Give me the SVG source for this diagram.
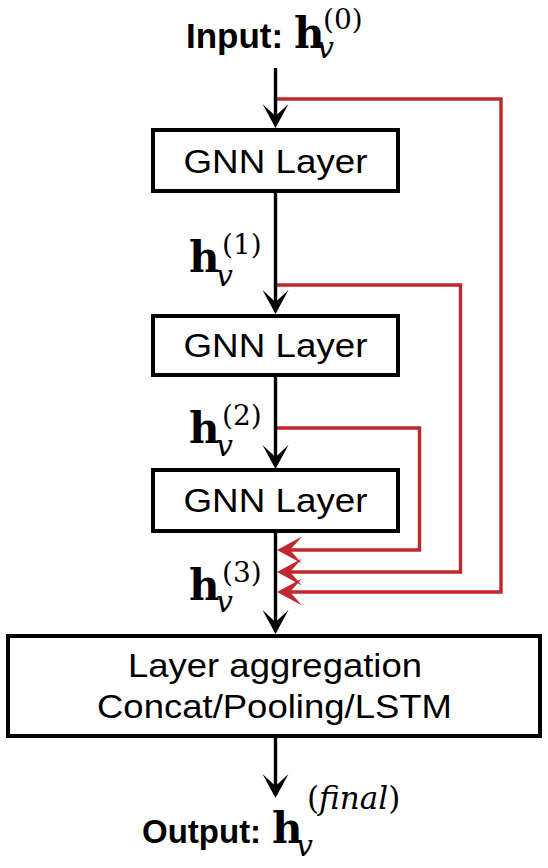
<svg xmlns="http://www.w3.org/2000/svg" width="548" height="868" viewBox="0 0 548 868">
<defs>
<style>
.box{fill:#ffffff;stroke:#000000;stroke-width:4}
.blk{fill:none;stroke:#000000;stroke-width:3.4}
.red{fill:none;stroke:#c0282d;stroke-width:3.4}
.lbl{font-family:"Liberation Sans",Arial,sans-serif;font-size:33px;fill:#000000}
.ttl{font-family:"Liberation Sans",Arial,sans-serif;font-size:35px;font-weight:bold}
.hb{font-family:"DejaVu Serif","Liberation Serif",serif;font-size:42px;font-weight:bold;font-style:normal}
.vi{font-family:"DejaVu Serif","Liberation Serif",serif;font-size:30px;font-style:italic;font-weight:normal}
.sup{font-family:"DejaVu Serif","Liberation Serif",serif;font-size:28px;font-style:normal;font-weight:normal}
.math{fill:#000000}
</style>
<path id="headB" d="M0,0 L-24,-13 L-12,0 L-24,13 Z" fill="#000000"/>
<path id="headR" d="M0,0 L-25,-13.5 L-13,0 L-25,13.5 Z" fill="#c0282d"/>
</defs>
<rect width="548" height="868" fill="#ffffff"/>

<g id="connectors">
<path class="red" d="M277,99 H501 V592 H290"/>
<path class="red" d="M277,285 H460.5 V572 H290"/>
<path class="red" d="M277,428 H419.5 V550 H290"/>
<use href="#headR" transform="translate(277,550) rotate(180)"/>
<use href="#headR" transform="translate(277,572) rotate(180)"/>
<use href="#headR" transform="translate(277,592) rotate(180)"/>
<path class="blk" d="M275.5,68 V117"/>
<use href="#headB" transform="translate(275.5,128) rotate(90)"/>
<path class="blk" d="M275.5,191 V303"/>
<use href="#headB" transform="translate(275.5,314) rotate(90)"/>
<path class="blk" d="M275.5,375 V458"/>
<use href="#headB" transform="translate(275.5,469) rotate(90)"/>
<path class="blk" d="M275.5,531 V623"/>
<use href="#headB" transform="translate(275.5,634) rotate(90)"/>
<path class="blk" d="M275.5,736 V787"/>
<use href="#headB" transform="translate(275.5,798) rotate(90)"/>
</g>

<g id="input">
<text class="math"><tspan class="ttl" x="186" y="48">Input:</tspan><tspan class="hb" x="294" y="48">h</tspan><tspan class="vi" x="317" y="58">v</tspan><tspan class="sup" x="323" y="29">(0)</tspan></text>
</g>

<g id="gnn1">
<rect class="box" x="153" y="130" width="245" height="61"/>
<text class="lbl" x="275.5" y="173" text-anchor="middle" textLength="184" lengthAdjust="spacingAndGlyphs">GNN Layer</text>
</g>

<g id="h1">
<text class="math"><tspan class="hb" x="189" y="272">h</tspan><tspan class="vi" x="216" y="286">v</tspan><tspan class="sup" x="222" y="254">(1)</tspan></text>
</g>

<g id="gnn2">
<rect class="box" x="153" y="316" width="245" height="59"/>
<text class="lbl" x="275.5" y="357" text-anchor="middle" textLength="184" lengthAdjust="spacingAndGlyphs">GNN Layer</text>
</g>

<g id="h2">
<text class="math"><tspan class="hb" x="189" y="443">h</tspan><tspan class="vi" x="216" y="456">v</tspan><tspan class="sup" x="222" y="425">(2)</tspan></text>
</g>

<g id="gnn3">
<rect class="box" x="153" y="470" width="245" height="61"/>
<text class="lbl" x="275.5" y="512" text-anchor="middle" textLength="184" lengthAdjust="spacingAndGlyphs">GNN Layer</text>
</g>

<g id="h3">
<text class="math"><tspan class="hb" x="189" y="600">h</tspan><tspan class="vi" x="216" y="612">v</tspan><tspan class="sup" x="222" y="582">(3)</tspan></text>
</g>

<g id="aggregation">
<rect class="box" x="8" y="636" width="532" height="100"/>
<text class="lbl" x="275" y="677" text-anchor="middle" textLength="294" lengthAdjust="spacingAndGlyphs">Layer aggregation</text>
<text class="lbl" x="274.5" y="718" text-anchor="middle" textLength="355" lengthAdjust="spacingAndGlyphs">Concat/Pooling/LSTM</text>
</g>

<g id="output">
<text class="math"><tspan class="ttl" x="142" y="843" style="font-size:33px">Output:</tspan><tspan class="hb" x="272" y="843">h</tspan><tspan class="vi" x="296" y="856">v</tspan><tspan class="sup" x="307" y="809" style="font-size:31px">(</tspan><tspan class="vi" style="font-size:31px">final</tspan><tspan class="sup" style="font-size:31px">)</tspan></text>
</g>
</svg>
